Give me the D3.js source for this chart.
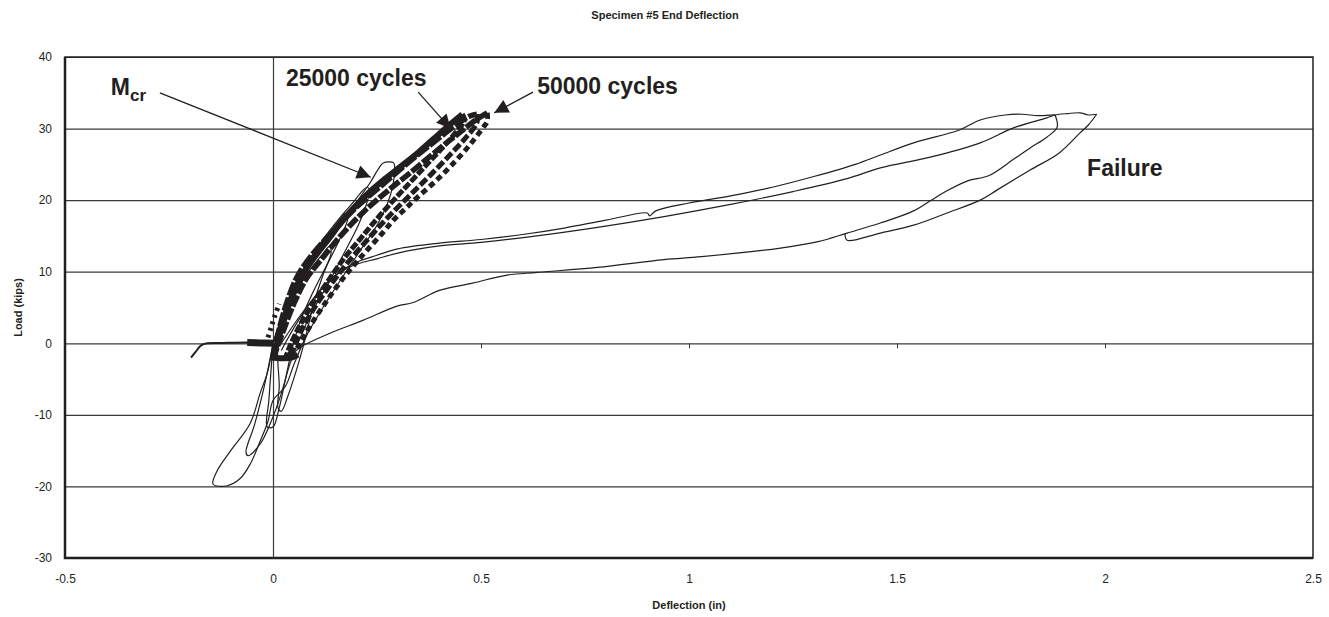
<!DOCTYPE html>
<html>
<head>
<meta charset="utf-8">
<script src="https://cdn.jsdelivr.net/npm/d3@7"></script>
<style>
  body { margin: 0; background: #fff; }
  text { font-family: "Liberation Sans", Arial, sans-serif; fill: #231f20; }
  .tick text { font-size: 12px; }
  .bold { font-weight: bold; }
</style>
</head>
<body>
<div id="chart"></div>
<script>
// axis ticks
var xTicks = [-0.5, 0, 0.5, 1, 1.5, 2, 2.5];
var yTicks = [-30, -20, -10, 0, 10, 20, 30, 40];

// initial seating of the specimen
var preloadLine = [[-0.197,-2.0],[-0.186,-1.2],[-0.173,-0.3],[-0.158,0.0],[-0.12,0.05],[-0.06,0.1],[-0.03,0.05],[0.0,0.0]];
var preloadMarks = [[-0.062,0.1],[-0.03,0.05],[0.0,0.0]];

// thin reversed loops up to Mcr
var mcrLoop1 = [[0,0],[0.03,4],[0.06,8],[0.1,11.5],[0.144,14.8],[0.161,16.2],[0.185,18.2],[0.209,20.4],[0.233,22.4],[0.255,24.5],[0.265,25.2],[0.29,25.2],
  [0.292,24],[0.288,22],[0.275,19.5],[0.25,16.5],[0.21,13],[0.17,9.5],[0.12,5],[0.08,1],[0.05,-3],[0.03,-6],[0.0,-8],[-0.012,-10.9],[-0.031,-13.7],
  [-0.055,-16.9],[-0.079,-18.9],[-0.11,-19.9],[-0.144,-19.7],[-0.135,-17.9],[-0.103,-15.1],[-0.055,-11.2],[-0.031,-7.0],[-0.014,-4.2],[-0.007,-2.4],[0,0]];
var mcrLoop2 = [[0,0],[0.03,5],[0.07,10],[0.12,14.5],[0.16,17.5],[0.19,19.5],[0.215,21.3],[0.226,21.8],[0.232,21.5],[0.225,19.5],[0.205,16.5],[0.17,12.5],
  [0.13,8],[0.09,4],[0.06,0],[0.04,-3],[0.02,-7],[-0.005,-11],[-0.03,-14],[-0.06,-15.7],[-0.065,-15.2],[-0.045,-11.5],[-0.025,-7],[-0.01,-3],[0,0]];
var mcrLoop3 = [[0,0],[0.03,5],[0.07,10],[0.11,13.5],[0.15,16.5],[0.175,18.2],[0.18,17.5],[0.16,14.5],[0.13,11],[0.095,7],[0.065,3],[0.045,-1],
  [0.03,-5],[0.015,-9],[0.0,-11.7],[-0.014,-11.7],[-0.01,-8],[-0.005,-4],[0,0]];
var mcrLoop4 = [[0.01,0],[0.04,5],[0.08,9.5],[0.12,12.5],[0.135,13.5],[0.14,12.8],[0.12,9.5],[0.1,6],[0.085,2.5],[0.07,-1],[0.055,-4],[0.035,-7.5],
  [0.02,-9.5],[0.012,-9],[0.015,-6],[0.012,-3],[0.01,0]];

// fatigue cycles (heavy marker lines)
var firstLoad = [[-0.012,0.8],[-0.005,2.1],[0.003,3.6],[0.015,5.5]];
var cycle10Load = [[0.0,-2.0],[0.015,2],[0.035,6],[0.06,9.5],[0.1,12.8],[0.15,16],[0.2,19],[0.26,22],[0.32,25],[0.38,27.8],[0.44,30.5],[0.475,31.8],[0.49,32.0]];
var cycle10Unload = [[0.49,32.0],[0.49,30.8],[0.46,28.5],[0.42,26],[0.38,23.6],[0.34,21.3],[0.3,19],[0.26,16.6],[0.22,14],[0.18,11.3],[0.14,8.3],[0.1,5],[0.07,2],[0.045,-1],[0.035,-2]];
var cycle25Load = [[0.0,-2.0],[0.01,0],[0.025,3],[0.045,6.5],[0.07,9.5],[0.1,12.2],[0.14,15.2],[0.18,18],[0.226,20.8],[0.27,23],[0.305,24.6],[0.35,26.7],[0.385,28.5],[0.42,30.3],[0.445,31.5],[0.455,32.0]];
var cycle25Unload = [[0.455,32.0],[0.46,31.2],[0.44,29.5],[0.41,27.5],[0.37,25],[0.33,22.5],[0.29,20],[0.25,17.4],[0.21,14.6],[0.17,11.8],[0.13,8.5],[0.09,5],[0.06,2],[0.04,-0.5],[0.03,-2]];
var cycle50Load = [[0.0,-2.2],[0.02,1],[0.05,5.5],[0.08,9],[0.12,12],[0.17,15.5],[0.22,18.5],[0.28,21.5],[0.34,24.3],[0.4,27.2],[0.45,29.5],[0.49,31.3],[0.515,32.2]];
var cycle50Unload = [[0.515,32.2],[0.515,31.0],[0.507,30.3],[0.47,27.5],[0.428,24.8],[0.39,22.6],[0.349,20.5],[0.32,18.9],[0.291,17.3],[0.26,15.2],[0.226,13.0],[0.2,11.3],[0.17,9.2],[0.13,6],[0.09,2.5],[0.06,-0.5],[0.04,-2]];
var cycleFloor = [[-0.005,-2.0],[0.02,-2.1],[0.045,-2.0],[0.06,-1.6]];

// failure loading
var failureLoad1 = [[0.02,0],[0.08,5],[0.15,9.5],[0.2,11.3],[0.25,12.3],[0.3,13.2],[0.4,14.0],[0.5,14.5],[0.6,15.2],[0.7,16.1],[0.8,17.2],[0.9,18.2],[0.905,17.8],[0.92,18.5],
  [1.0,19.6],[1.1,20.6],[1.2,21.8],[1.3,23.3],[1.4,25.0],[1.46,26.3],[1.54,28.0],[1.65,29.8],[1.70,31.2],[1.76,31.9],[1.80,32.0],[1.84,31.8],[1.88,31.9]];
var failureUnload1 = [[1.88,31.9],[1.885,30.2],[1.86,28.8],[1.82,27.3],[1.78,25.7],[1.72,23.4],[1.67,22.7],[1.62,21.3],[1.58,19.9],[1.54,18.5],[1.46,16.8],[1.38,15.4],
  [1.31,14.2],[1.22,13.3],[1.03,12.1],[0.94,11.7],[0.78,10.6],[0.635,9.9],[0.56,9.5],[0.48,8.4],[0.40,7.4],[0.337,5.7],[0.298,5.2],[0.216,3.2],[0.137,1.4],[0.065,-0.6],[0.04,-2]];
var failureLoad2 = [[0.02,-1],[0.07,4],[0.13,8.5],[0.19,10.8],[0.25,11.8],[0.3,12.6],[0.4,13.6],[0.5,14.1],[0.62,14.9],[0.78,16.2],[0.94,17.7],[1.1,19.4],[1.25,21.2],
  [1.38,23.0],[1.46,24.5],[1.58,26.0],[1.70,28.0],[1.78,30.1],[1.86,31.5],[1.88,31.9],[1.91,32.1],[1.94,32.2],[1.96,31.9],[1.98,32.0]];
var failureUnload2 = [[1.98,32.0],[1.96,30.5],[1.94,29.4],[1.89,26.6],[1.82,24.2],[1.74,21.4],[1.70,20.0],[1.62,18.2],[1.54,16.5],[1.46,15.4],[1.38,14.4],[1.375,15.3]];

var width = 1329, height = 617;
var padL = 65, padR = 1313, padT = 57, padB = 558;

var svg = d3.select("#chart").append("svg")
  .attr("width", width)
  .attr("height", height);

var x = d3.scaleLinear().domain([-0.5, 2.5]).range([padL, padR]);
var y = d3.scaleLinear().domain([-30, 40]).range([padB, padT]);

var defs = svg.append("defs");
defs.append("marker")
  .attr("id", "arrow")
  .attr("viewBox", "0 0 10 10")
  .attr("refX", 10).attr("refY", 5)
  .attr("markerWidth", 18).attr("markerHeight", 14)
  .attr("markerUnits", "userSpaceOnUse")
  .attr("orient", "auto")
  .append("path").attr("d", "M0,0L10,5L0,10Z").attr("fill", "#231f20");

// horizontal grid + y labels
var yAxis = svg.append("g")
  .attr("transform", "translate(" + padL + ",0)")
  .call(d3.axisLeft(y).tickValues(yTicks).tickSizeInner(-(padR - padL)).tickSizeOuter(0).tickPadding(13).tickFormat(function(d) { return String(d); }));
yAxis.select(".domain").remove();
yAxis.selectAll(".tick line").attr("stroke", "#3a3a3a").attr("stroke-width", 1.2);

// x labels
var xAxis = svg.append("g")
  .attr("transform", "translate(0," + padB + ")")
  .call(d3.axisBottom(x).tickValues(xTicks).tickSize(0).tickPadding(16).tickFormat(function(d) { return String(d); }));
xAxis.select(".domain").remove();

// zero axes
svg.append("g")
  .attr("transform", "translate(" + x(0) + ",0)")
  .call(d3.axisLeft(y).tickValues([]).tickSizeOuter(0))
  .select(".domain").attr("stroke", "#3a3a3a").attr("stroke-width", 1.2);
var zeroTicks = svg.append("g")
  .attr("transform", "translate(0," + y(0) + ")")
  .call(d3.axisBottom(x).tickValues([0.5, 1, 1.5, 2]).tickSize(5).tickFormat(""));
zeroTicks.select(".domain").remove();
zeroTicks.selectAll("line").attr("stroke", "#3a3a3a");

// plot frame
svg.append("rect")
  .attr("x", padL).attr("y", padT)
  .attr("width", padR - padL).attr("height", padB - padT)
  .attr("fill", "none").attr("stroke", "#231f20").attr("stroke-width", 1.5);
svg.append("path")
  .attr("d", "M" + padL + "," + padT + "V" + padB + "H" + padR)
  .attr("fill", "none").attr("stroke", "#231f20").attr("stroke-width", 2.5);

var line = d3.line()
  .x(function(d) { return x(d[0]); })
  .y(function(d) { return y(d[1]); })
  .curve(d3.curveCatmullRom.alpha(0.5));

var plot = svg.append("g");

function draw(data, w, dash) {
  plot.append("path")
    .datum(data)
    .attr("d", line)
    .attr("fill", "none")
    .attr("stroke", "#231f20")
    .attr("stroke-width", w)
    .attr("stroke-linejoin", "round")
    .attr("stroke-dasharray", dash || null);
}

draw(failureLoad1, 1.2);
draw(failureUnload1, 1.2);
draw(failureLoad2, 1.2);
draw(failureUnload2, 1.2);

draw(firstLoad, 5, "3,4");
draw(cycle10Load, 5.5, "14,2");
draw(cycle10Unload, 5, "9,3");
draw(cycle25Load, 6);
draw(cycle25Unload, 5, "8,2");
draw(cycle50Load, 5.5, "12,2");
draw(cycle50Unload, 5, "6,4");
draw(cycleFloor, 6);

draw(mcrLoop1, 1.2);
draw(mcrLoop2, 1.2);
draw(mcrLoop3, 1.2);
draw(mcrLoop4, 1.2);

draw(preloadLine, 2);
draw(preloadMarks, 7);

// annotations
svg.append("text").attr("class", "bold")
  .attr("x", x(-0.39)).attr("y", y(34.7))
  .style("font-size", "23px")
  .text("M")
  .append("tspan").attr("dy", 6).style("font-size", "17px").text("cr");
svg.append("line")
  .attr("x1", x(-0.272)).attr("y1", y(35.0))
  .attr("x2", x(0.235)).attr("y2", y(23.2))
  .attr("stroke", "#231f20").attr("stroke-width", 1.3)
  .attr("marker-end", "url(#arrow)");

svg.append("text").attr("class", "bold")
  .attr("x", x(0.031)).attr("y", y(35.9))
  .style("font-size", "23px")
  .text("25000 cycles");
svg.append("line")
  .attr("x1", x(0.349)).attr("y1", y(35.1))
  .attr("x2", x(0.427)).attr("y2", y(30.0))
  .attr("stroke", "#231f20").attr("stroke-width", 1.3)
  .attr("marker-end", "url(#arrow)");

svg.append("text").attr("class", "bold")
  .attr("x", x(0.635)).attr("y", y(34.8))
  .style("font-size", "23px")
  .text("50000 cycles");
svg.append("line")
  .attr("x1", x(0.625)).attr("y1", y(35.1))
  .attr("x2", x(0.532)).attr("y2", y(32.2))
  .attr("stroke", "#231f20").attr("stroke-width", 1.3)
  .attr("marker-end", "url(#arrow)");

svg.append("text").attr("class", "bold")
  .attr("x", x(1.957)).attr("y", y(23.4))
  .style("font-size", "23px")
  .text("Failure");

// titles
svg.append("text").attr("class", "bold")
  .attr("x", 665).attr("y", 19)
  .attr("text-anchor", "middle")
  .style("font-size", "11px")
  .text("Specimen #5 End Deflection");
svg.append("text").attr("class", "bold")
  .attr("x", (padL + padR) / 2).attr("y", 609)
  .attr("text-anchor", "middle")
  .style("font-size", "11px")
  .text("Deflection (in)");
svg.append("text").attr("class", "bold")
  .attr("transform", "translate(22," + (padT + padB) / 2 + ") rotate(-90)")
  .attr("text-anchor", "middle")
  .style("font-size", "11px")
  .text("Load (kips)");
</script>
</body>
</html>
